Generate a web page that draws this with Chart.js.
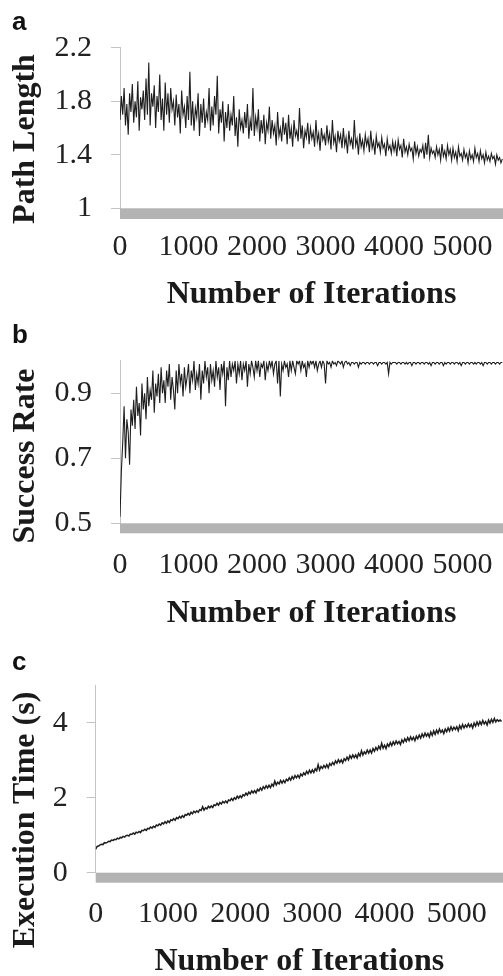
<!DOCTYPE html>
<html>
<head>
<meta charset="utf-8">
<script src="https://cdn.jsdelivr.net/npm/chart.js@4.4.1/dist/chart.umd.min.js"></script>
<style>
  html, body { margin:0; padding:0; background:#fff; }
  body { width:503px; height:976px; overflow:hidden; position:relative; }
  canvas { position:absolute; left:0; }
  .letter { position:absolute; left:12px; font: bold 26px "Liberation Sans", Arial, sans-serif; line-height:1; color:#111; }
  .ytitle { position:absolute; white-space:nowrap; font: bold 32px "Liberation Serif", "Times New Roman", serif; line-height:1; color:#1a1a1a;
            transform: translate(-50%, -50%) rotate(-90deg); }
</style>
</head>
<body>
<canvas id="ca" width="503" height="320" style="top:0px"></canvas>
<canvas id="cb" width="503" height="320" style="top:320px"></canvas>
<canvas id="cc" width="503" height="350" style="top:640px"></canvas>
<div class="letter" style="top:8px">a</div>
<div class="letter" style="top:321px">b</div>
<div class="letter" style="top:648px">c</div>
<div class="ytitle" style="left:22.5px; top:139px">Path Length</div>
<div class="ytitle" style="left:22.5px; top:456px">Success Rate</div>
<div class="ytitle" style="left:22.5px; top:820px">Execution Time (s)</div>
<script>
const ITER_STEP = 20;
const xTickValues = [0, 1000, 2000, 3000, 4000, 5000];
const xTickLabels = ["0", "1000", "2000", "3000", "4000", "5000"];
const xTitle = "Number of Iterations";

const pathLength = [
  1.66,1.84,1.70,1.90,1.62,1.78,1.55,1.86,1.72,1.93,
  1.64,1.80,1.68,1.95,1.58,1.83,1.74,1.88,1.66,1.97,
  1.70,2.09,1.62,1.86,1.76,1.92,1.60,1.84,1.72,2.00,
  1.66,1.82,1.58,1.94,1.70,1.86,1.64,1.90,1.74,1.80,
  1.62,1.85,1.68,1.78,1.56,1.88,1.70,1.76,1.60,1.84,
  1.66,2.02,1.62,1.80,1.58,1.75,1.68,1.86,1.54,1.78,
  1.64,1.82,1.60,1.72,1.66,1.90,1.58,1.76,1.62,1.84,
  1.70,1.99,1.56,1.74,1.64,1.80,1.50,1.72,1.60,1.78,
  1.58,1.70,1.62,1.84,1.54,1.68,1.46,1.74,1.60,1.66,
  1.56,1.72,1.60,1.78,1.52,1.66,1.58,1.90,1.54,1.68,
  1.60,1.74,1.50,1.66,1.56,1.70,1.48,1.64,1.58,1.76,
  1.52,1.66,1.56,1.62,1.47,1.72,1.54,1.60,1.50,1.68,
  1.55,1.64,1.48,1.70,1.52,1.60,1.46,1.66,1.54,1.58,
  1.50,1.75,1.52,1.62,1.45,1.58,1.53,1.64,1.48,1.60,
  1.52,1.57,1.46,1.66,1.50,1.56,1.43,1.60,1.51,1.55,
  1.47,1.62,1.50,1.56,1.44,1.66,1.49,1.54,1.42,1.58,
  1.50,1.55,1.45,1.60,1.47,1.53,1.41,1.58,1.48,1.52,
  1.44,1.66,1.47,1.52,1.40,1.56,1.46,1.51,1.43,1.55,
  1.47,1.52,1.42,1.58,1.45,1.50,1.40,1.54,1.46,1.49,
  1.42,1.53,1.45,1.48,1.39,1.52,1.44,1.47,1.41,1.50,
  1.43,1.49,1.39,1.51,1.44,1.47,1.38,1.52,1.42,1.46,
  1.40,1.48,1.43,1.45,1.37,1.50,1.41,1.46,1.39,1.44,
  1.42,1.47,1.37,1.49,1.40,1.55,1.38,1.45,1.41,1.43,
  1.38,1.46,1.40,1.44,1.36,1.48,1.39,1.43,1.37,1.47,
  1.40,1.44,1.36,1.45,1.38,1.42,1.35,1.46,1.39,1.41,
  1.36,1.44,1.38,1.41,1.34,1.43,1.37,1.40,1.35,1.45,
  1.38,1.41,1.35,1.43,1.37,1.40,1.34,1.42,1.36,1.39,
  1.35,1.41,1.37,1.39,1.33,1.40,1.36,1.38,1.34,1.37
];
const pathTickValues = [1, 1.4, 1.8, 2.2];
const pathTickLabels = ["1", "1.4", "1.8", "2.2"];

const successRate = [
  0.52,0.66,0.75,0.86,0.70,0.82,0.78,0.68,0.85,0.80,
  0.88,0.79,0.92,0.83,0.87,0.77,0.93,0.85,0.90,0.82,
  0.95,0.86,0.91,0.88,0.97,0.84,0.93,0.89,0.96,0.87,
  0.98,0.90,0.94,0.87,0.97,0.92,0.99,0.88,0.95,0.91,
  0.85,0.97,0.90,0.99,0.93,0.96,0.89,0.98,0.92,0.95,
  0.99,0.90,0.97,0.94,1.00,0.91,0.96,0.93,0.99,0.88,
  0.97,0.93,1.00,0.95,0.98,0.90,0.99,0.94,0.97,0.92,
  1.00,0.95,0.98,0.91,0.99,0.96,1.00,0.86,0.98,0.94,
  1.00,0.95,0.99,0.97,1.00,0.93,0.99,0.96,1.00,0.94,
  0.99,0.97,1.00,0.92,0.99,0.96,1.00,0.98,0.95,1.00,
  0.97,1.00,0.95,0.99,0.98,1.00,0.94,0.99,0.97,1.00,
  0.98,1.00,0.96,0.99,1.00,0.93,1.00,0.89,0.99,0.97,
  1.00,0.98,0.99,0.95,1.00,0.97,1.00,0.98,0.96,1.00,
  0.99,1.00,0.97,1.00,0.98,0.99,0.95,1.00,0.98,1.00,
  0.99,1.00,0.98,1.00,0.97,0.99,1.00,0.98,1.00,0.99,
  0.93,1.00,0.99,0.995,0.98,1.00,0.99,0.995,0.985,1.00,
  0.995,0.99,1.00,0.98,0.995,1.00,0.99,0.995,0.985,0.995,
  0.995,0.99,0.995,0.995,0.98,0.995,0.99,0.995,0.995,0.99,
  0.995,0.995,0.99,0.995,0.995,0.99,0.995,0.995,0.985,0.995,
  0.995,0.99,0.995,0.995,0.99,0.995,0.96,0.995,0.99,0.995,
  0.995,0.995,0.99,0.995,0.995,0.99,0.995,0.995,0.99,0.995,
  0.99,0.995,0.995,0.985,0.995,0.995,0.99,0.995,0.995,0.99,
  0.995,0.995,0.99,0.995,0.995,0.99,0.995,0.985,0.995,0.995,
  0.99,0.995,0.995,0.99,0.995,0.995,0.985,0.995,0.99,0.995,
  0.995,0.99,0.995,0.995,0.99,0.995,0.995,0.99,0.995,0.985,
  0.995,0.995,0.99,0.995,0.995,0.99,0.995,0.995,0.99,0.995,
  0.99,0.995,0.995,0.99,0.995,0.985,0.995,0.995,0.99,0.995,
  0.995,0.99,0.995,0.995,0.99,0.995,0.995,0.99,0.995,0.995
];
const successTickValues = [0.5, 0.7, 0.9];
const successTickLabels = ["0.5", "0.7", "0.9"];

const execTime = [
  0.63,0.70,0.71,0.74,0.76,0.75,0.80,0.79,0.81,0.84,
  0.83,0.87,0.86,0.89,0.88,0.92,0.90,0.94,0.93,0.97,
  0.95,0.99,1.00,0.98,1.03,1.02,1.06,1.03,1.08,1.06,
  1.10,1.07,1.13,1.12,1.16,1.13,1.18,1.17,1.22,1.19,
  1.24,1.21,1.27,1.25,1.30,1.27,1.33,1.30,1.36,1.32,
  1.38,1.34,1.41,1.39,1.44,1.40,1.47,1.44,1.50,1.46,
  1.52,1.48,1.55,1.53,1.58,1.54,1.61,1.57,1.64,1.60,
  1.65,1.61,1.68,1.66,1.76,1.67,1.73,1.70,1.77,1.73,
  1.78,1.74,1.81,1.79,1.85,1.80,1.87,1.83,1.90,1.86,
  1.91,1.86,1.94,1.92,1.98,1.93,2.00,1.96,2.04,1.99,
  2.05,2.00,2.08,2.05,2.12,2.07,2.15,2.10,2.18,2.13,
  2.19,2.13,2.22,2.18,2.26,2.20,2.29,2.24,2.32,2.26,
  2.33,2.27,2.36,2.31,2.44,2.34,2.41,2.37,2.46,2.39,
  2.46,2.40,2.49,2.45,2.53,2.47,2.56,2.50,2.59,2.53,
  2.60,2.53,2.63,2.58,2.66,2.61,2.70,2.64,2.73,2.66,
  2.74,2.67,2.77,2.72,2.88,2.74,2.83,2.78,2.86,2.80,
  2.88,2.80,2.91,2.86,2.94,2.88,2.98,2.92,3.01,2.94,
  3.01,2.93,3.04,2.99,3.08,3.01,3.12,3.05,3.14,3.07,
  3.14,3.06,3.18,3.11,3.25,3.14,3.22,3.17,3.27,3.19,
  3.27,3.19,3.31,3.24,3.34,3.27,3.37,3.30,3.45,3.32,
  3.40,3.31,3.43,3.37,3.47,3.39,3.49,3.42,3.51,3.44,
  3.50,3.42,3.54,3.47,3.57,3.50,3.60,3.52,3.62,3.54,
  3.61,3.52,3.64,3.57,3.67,3.59,3.70,3.62,3.72,3.64,
  3.71,3.62,3.75,3.66,3.78,3.69,3.80,3.72,3.83,3.74,
  3.80,3.71,3.83,3.76,3.86,3.78,3.89,3.80,3.88,3.82,
  3.89,3.79,3.92,3.84,3.95,3.86,3.94,3.88,3.97,3.89,
  3.96,3.86,3.99,3.91,4.02,3.93,4.03,3.95,4.06,3.97,
  4.03,3.94,4.07,3.99,4.09,4.01,4.11,4.02,4.08,4.04,
  4.07,4.03
];
const execTickValues = [0, 2, 4];
const execTickLabels = ["0", "2", "4"];

// ---- rendering ----
const SERIF = "'Liberation Serif', 'Times New Roman', serif";
const TICK_FONT = { family: SERIF, size: 30 };
const TITLE_FONT = { family: SERIF, size: 32, weight: 'bold' };
const AXIS_GREY = '#c4c4c4';

const bandPlugin = {
  id: 'band',
  beforeDatasetsDraw(chart, args, opts) {
    const { ctx, chartArea } = chart;
    ctx.save();
    ctx.fillStyle = '#b3b3b3';
    ctx.fillRect(chartArea.left, chartArea.bottom, chartArea.right - chartArea.left, opts.h);
    ctx.restore();
  }
};

function makeChart(id, cfg) {
  const canvas = document.getElementById(id);
  const H = canvas.height;
  const pts = cfg.values.map((v, i) => ({ x: i * ITER_STEP, y: v }));
  return new Chart(canvas, {
    type: 'line',
    data: { datasets: [{ data: pts, borderColor: '#1e1e1e', borderWidth: cfg.lw, pointRadius: 0, tension: 0, fill: false }] },
    plugins: [bandPlugin],
    options: {
      responsive: false,
      animation: false,
      devicePixelRatio: 1,
      layout: { padding: { top: cfg.top, left: 0, right: 0, bottom: 0 } },
      plugins: { legend: { display: false }, tooltip: { enabled: false }, band: { h: cfg.band } },
      scales: {
        x: {
          type: 'linear', min: 0, max: cfg.xmax,
          afterBuildTicks: s => { s.ticks = xTickValues.map(v => ({ value: v })); },
          afterFit: s => { s.height = H - cfg.bottom; s.paddingLeft = 0; s.paddingRight = 0; },
          ticks: { callback: (v, i) => xTickLabels[i], font: TICK_FONT, color: '#222', padding: cfg.xpad, maxRotation: 0, autoSkip: false },
          grid: { display: false, drawTicks: false },
          border: { display: false },
          title: { display: true, text: xTitle, font: TITLE_FONT, color: '#1a1a1a', padding: { top: 0, bottom: cfg.titlePad } }
        },
        y: {
          type: 'linear', min: cfg.ymin, max: cfg.ymax,
          afterBuildTicks: s => { s.ticks = cfg.tickValues.map(v => ({ value: v })); },
          afterFit: s => { s.width = cfg.left; },
          ticks: { callback: (v, i) => cfg.tickLabels[i], font: TICK_FONT, color: '#222', padding: 19 },
          grid: { drawOnChartArea: false, drawTicks: true, tickLength: 9, color: AXIS_GREY },
          border: { display: true, color: AXIS_GREY, width: 1 }
        }
      }
    }
  });
}

makeChart('ca', { values: pathLength, tickValues: pathTickValues, tickLabels: pathTickLabels, lw: 1.1,
  ymin: 1, ymax: 2.2, xmax: 5590, top: 47.8, left: 120, bottom: 208.3, band: 10.7, xpad: 20.4, titlePad: 5.8 });
makeChart('cb', { values: successRate, tickValues: successTickValues, tickLabels: successTickLabels, lw: 1.1,
  ymin: 0.5, ymax: 1.0, xmax: 5590, top: 40.8, left: 120, bottom: 203.3, band: 10, xpad: 23.7, titlePad: 7.5 });
makeChart('cc', { values: execTime, tickValues: execTickValues, tickLabels: execTickLabels, lw: 1.5,
  ymin: 0, ymax: 5, xmax: 5640, top: 45.2, left: 95.7, bottom: 232.7, band: 10, xpad: 23.3, titlePad: 8.8 });
</script>
</body>
</html>
